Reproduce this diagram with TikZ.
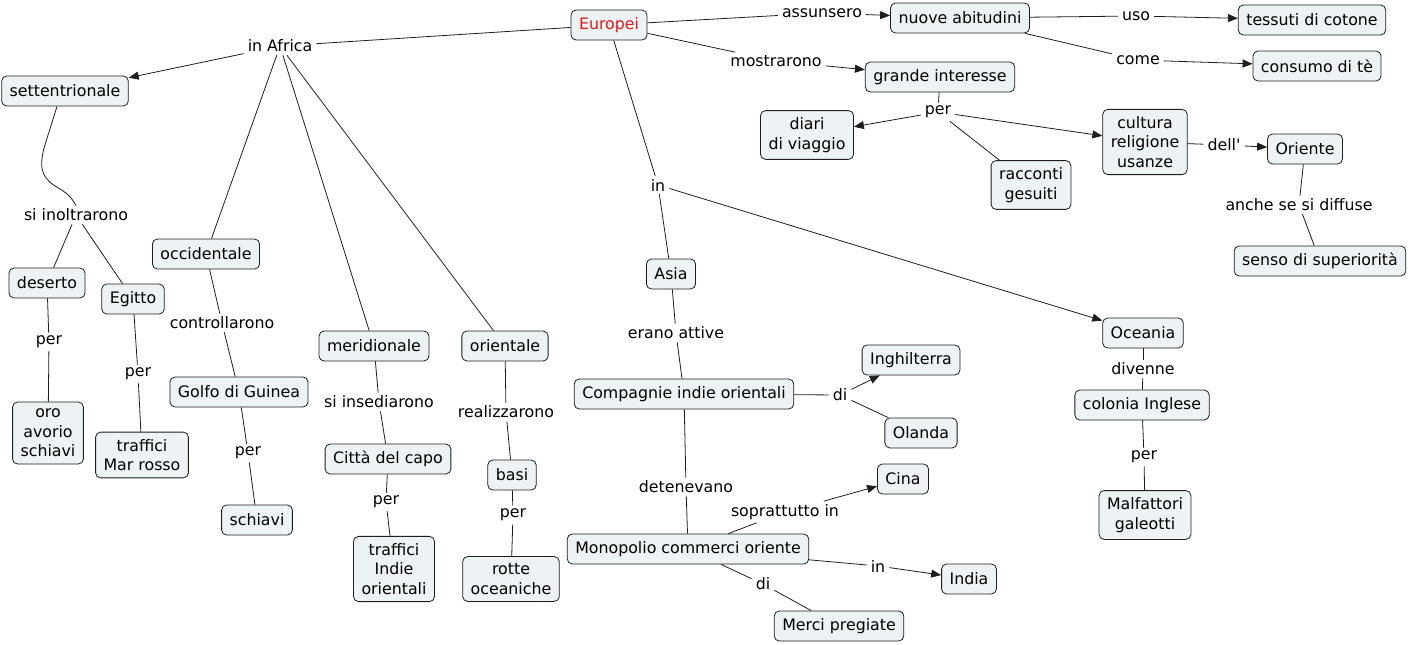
\documentclass[tikz,border=0pt]{standalone}
\usepackage{fontspec}
\setmainfont{DejaVu Sans}
\usetikzlibrary{arrows.meta,calc}
\definecolor{boxfill}{RGB}{237,242,245}
\definecolor{edgec}{RGB}{30,30,30}
\definecolor{eured}{RGB}{225,25,25}
\newcommand\mapfont{\fontsize{15.8}{19.5}\selectfont}
\begin{document}
\begin{tikzpicture}[x=1pt,y=-1pt,
 cbox/.style={draw=edgec, fill=boxfill, rounded corners=5pt, line width=0.8pt, inner xsep=8pt, inner ysep=7pt, minimum height=30pt, align=center, font=\mapfont},
 lbl/.style={inner xsep=4pt, inner ysep=3pt, font=\mapfont},
 ln/.style={draw=edgec, line width=0.8pt},
 arr/.style={ln, -{Triangle[length=10pt,width=8pt]}}]
\useasboundingbox (0,0) rectangle (1408,645);
% concept boxes
\node[cbox,text=eured] (eu) at (609,25) {Europei};
\node[cbox] (nab) at (960,18) {nuove abitudini};
\node[cbox] (tes) at (1312,20) {tessuti di cotone};
\node[cbox] (cons) at (1317,66) {consumo di tè};
\node[cbox] (gi) at (940,77) {grande interesse};
\node[cbox] (diari) at (807,135) {diari\\di viaggio};
\node[cbox] (racc) at (1031,185) {racconti\\gesuiti};
\node[cbox] (cult) at (1145,142) {cultura\\religione\\usanze};
\node[cbox] (ori) at (1305,149) {Oriente};
\node[cbox] (senso) at (1320,261) {senso di superiorità};
\node[cbox] (sett) at (65,91) {settentrionale};
\node[cbox] (occ) at (206,254) {occidentale};
\node[cbox] (des) at (47,283) {deserto};
\node[cbox] (egi) at (133,299) {Egitto};
\node[cbox] (oro) at (48,433) {oro\\avorio\\schiavi};
\node[cbox] (tmr) at (142,455) {traffici\\Mar rosso};
\node[cbox] (golfo) at (239,392) {Golfo di Guinea};
\node[cbox] (schi) at (257,520) {schiavi};
\node[cbox] (mer) at (374,346) {meridionale};
\node[cbox] (citta) at (388,459) {Città del capo};
\node[cbox] (tio) at (394,569) {traffici\\Indie\\orientali};
\node[cbox] (orie) at (505,346) {orientale};
\node[cbox] (basi) at (512,475) {basi};
\node[cbox] (rotte) at (511,579) {rotte\\oceaniche};
\node[cbox] (asia) at (671,274) {Asia};
\node[cbox] (comp) at (684,394) {Compagnie indie orientali};
\node[cbox] (ing) at (911,360) {Inghilterra};
\node[cbox] (ola) at (921,433) {Olanda};
\node[cbox] (mono) at (688,549) {Monopolio commerci oriente};
\node[cbox] (cina) at (903,479) {Cina};
\node[cbox] (india) at (969,579) {India};
\node[cbox] (merci) at (839,626) {Merci pregiate};
\node[cbox] (oce) at (1143,333) {Oceania};
\node[cbox] (col) at (1142,405) {colonia Inglese};
\node[cbox] (malf) at (1145,515) {Malfattori\\galeotti};
% link labels
\node[lbl] (lAfr) at (280,46) {in Africa};
\node[lbl] (lass) at (822,13) {assunsero};
\node[lbl] (lmos) at (776,61) {mostrarono};
\node[lbl] (luso) at (1136,16) {uso};
\node[lbl] (lcome) at (1138,60) {come};
\node[lbl] (lper1) at (938,112) {per};
\node[lbl] (ldell) at (1224,145) {dell\textquotesingle};
\node[lbl] (lanche) at (1299,205) {anche se si diffuse};
\node[lbl] (lin1) at (658,185) {in};
\node[lbl] (linol) at (76,215) {si inoltrarono};
\node[lbl] (lctrl) at (222,323) {controllarono};
\node[lbl] (lins) at (379,402) {si insediarono};
\node[lbl] (lreal) at (506,412) {realizzarono};
\node[lbl] (lera) at (676,333) {erano attive};
\node[lbl] (ldi1) at (840,395) {di};
\node[lbl] (ldet) at (686,487) {detenevano};
\node[lbl] (lsop) at (785,512) {soprattutto in};
\node[lbl] (lin2) at (878,566) {in};
\node[lbl] (ldi2) at (763,584) {di};
\node[lbl] (ldiv) at (1143,369) {divenne};
\node[lbl] (lper2) at (1144,457) {per};
\node[lbl] (lper3) at (49,342) {per};
\node[lbl] (lper4) at (138,374) {per};
\node[lbl] (lper5) at (248,453) {per};
\node[lbl] (lper6) at (386,502) {per};
\node[lbl] (lper7) at (513,515) {per};
% connectors
\draw[ln] (eu) -- (lAfr);
\draw[arr] (lAfr) -- (sett);
\draw[ln] (lAfr) -- (occ);
\draw[ln] (lAfr) -- (mer);
\draw[ln] (lAfr) -- (orie);
\draw[ln] (eu) -- (lass);
\draw[arr] (lass) -- (nab);
\draw[ln] (eu) -- (lmos);
\draw[arr] (lmos) -- (gi);
\draw[ln] (nab) -- (luso);
\draw[arr] (luso) -- (tes);
\draw[ln] (nab) -- (lcome);
\draw[arr] (lcome) -- (cons);
\draw[ln] (gi) -- (lper1);
\draw[arr] (lper1) -- (diari);
\draw[arr] (lper1) -- (cult);
\draw[ln] (lper1) -- (racc);
\draw[ln] (cult) -- (ldell);
\draw[arr] (ldell) -- (ori);
\draw[ln] (ori) -- (lanche);
\draw[ln] (lanche) -- (senso);
\draw[ln] (eu) -- (lin1);
\draw[ln] (lin1) -- (asia);
\draw[arr] (lin1) -- (oce);
\draw[ln] ([xshift=-8pt]sett.south) -- (44,148) .. controls (38,172) and (44,180) .. (60,189) .. controls (70,195) and (73,200) .. (linol.north);
\draw[ln] (linol) -- (des);
\draw[ln] (linol) -- (egi);
\draw[ln] (des) -- (lper3);
\draw[ln] (lper3) -- (oro);
\draw[ln] (egi) -- (lper4);
\draw[ln] (lper4) -- (tmr);
\draw[ln] (occ) -- (lctrl);
\draw[ln] (lctrl) -- (golfo);
\draw[ln] (golfo) -- (lper5);
\draw[ln] (lper5) -- (schi);
\draw[ln] (mer) -- (lins);
\draw[ln] (lins) -- (citta);
\draw[ln] (citta) -- (lper6);
\draw[ln] (lper6) -- (tio);
\draw[ln] (orie) -- (lreal);
\draw[ln] (lreal) -- (basi);
\draw[ln] (basi) -- (lper7);
\draw[ln] (lper7) -- (rotte);
\draw[ln] (asia) -- (lera);
\draw[ln] (lera) -- (comp);
\draw[ln] (comp) -- (ldi1);
\draw[arr] (ldi1) -- (ing);
\draw[ln] (ldi1) -- (ola);
\draw[ln] (comp) -- (ldet);
\draw[ln] (ldet) -- (mono);
\draw[ln] (mono) -- (lsop);
\draw[arr] (lsop) -- (cina);
\draw[ln] (mono) -- (lin2);
\draw[arr] (lin2) -- (india);
\draw[ln] (mono) -- (ldi2);
\draw[ln] (ldi2) -- (merci);
\draw[ln] (oce) -- (ldiv);
\draw[ln] (ldiv) -- (col);
\draw[ln] (col) -- (lper2);
\draw[ln] (lper2) -- (malf);
\end{tikzpicture}
\end{document}
